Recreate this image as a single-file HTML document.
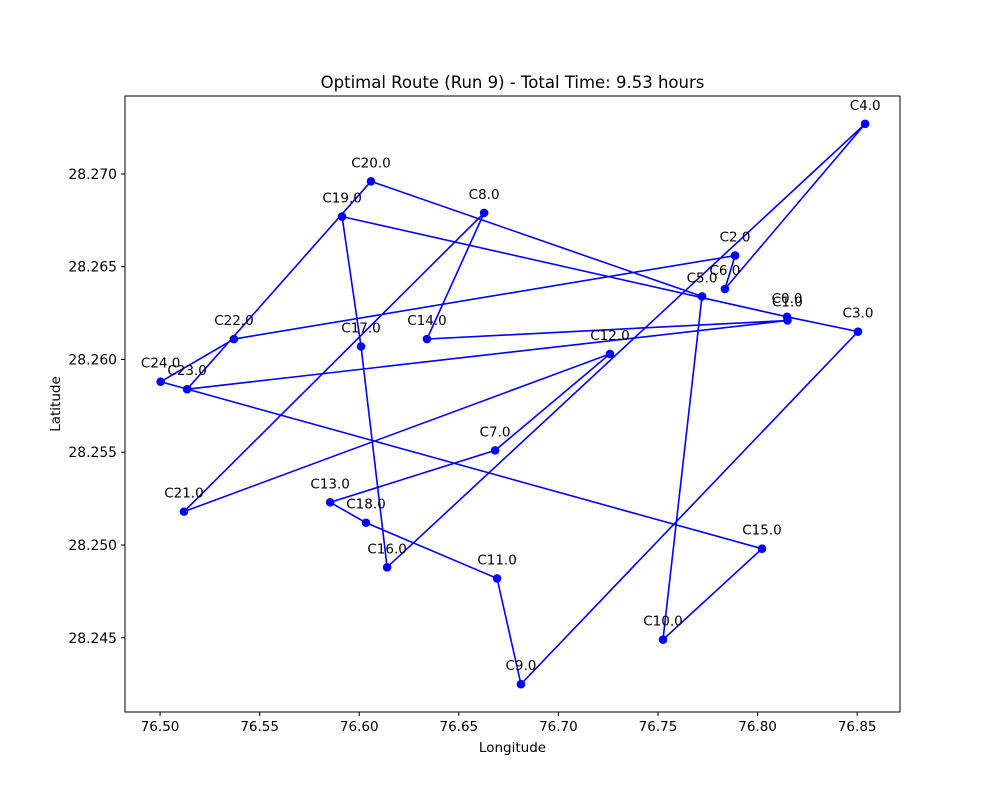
<!DOCTYPE html>
<html><head><meta charset="utf-8"><style>
body{margin:0;background:#fff}
svg{display:block;font-family:"DejaVu Sans","Liberation Sans",sans-serif}
</style></head><body>
<svg id="chart" width="1000" height="800" xmlns="http://www.w3.org/2000/svg"></svg>
<script>
const names=["C0.0","C1.0","C2.0","C3.0","C4.0","C5.0","C6.0","C7.0","C8.0","C9.0","C10.0","C11.0","C12.0","C13.0","C14.0","C15.0","C16.0","C17.0","C18.0","C19.0","C20.0","C21.0","C22.0","C23.0","C24.0"];
const lons=[76.8148,76.8150,76.7887,76.8504,76.8540,76.7721,76.7836,76.6682,76.6627,76.6812,76.7525,76.6692,76.7259,76.5854,76.6340,76.8022,76.6140,76.6009,76.6034,76.5914,76.6059,76.5120,76.5371,76.5136,76.5003];
const lats=[28.2623,28.2621,28.2656,28.2615,28.2727,28.2634,28.2638,28.2551,28.2679,28.2425,28.2449,28.2482,28.2603,28.2523,28.2611,28.2498,28.2488,28.2607,28.2512,28.2677,28.2696,28.2518,28.2611,28.2584,28.2588];
const route=[0,19,17,16,4,6,2,22,24,15,10,5,20,23,1,14,8,21,12,7,13,18,11,9,3,0];
const xTicks=[76.50,76.55,76.60,76.65,76.70,76.75,76.80,76.85];
const yTicks=[28.245,28.250,28.255,28.260,28.265,28.270];
const L=125,R=900,T=96,B=712;
const xMin=76.4824,xMax=76.8715,yMin=28.2410,yMax=28.2742;
const X=v=>L+(v-xMin)/(xMax-xMin)*(R-L);
const Y=v=>B-(v-yMin)/(yMax-yMin)*(B-T);
const svg=document.getElementById('chart');
const NS="http://www.w3.org/2000/svg";
function mk(tag,attrs,parent){const e=document.createElementNS(NS,tag);for(const k in attrs)e.setAttribute(k,attrs[k]);(parent||svg).appendChild(e);return e;}
const frame=mk('rect',{x:L,y:T,width:R-L,height:B-T,fill:'none',stroke:'#000','stroke-width':1});


xTicks.forEach(v=>{const x=X(v);
 const t=mk('line',{x1:x,x2:x,y1:B,y2:B+4,stroke:'#000'});
 
 
 const tx=mk('text',{x:x,y:B+19,'font-size':13.5,'text-anchor':'middle'});tx.textContent=v.toFixed(2);
 
 
});
yTicks.forEach(v=>{const y=Y(v);
 const t=mk('line',{x1:L-4,x2:L,y1:y,y2:y,stroke:'#000'});
 
 
 const tx=mk('text',{x:L-8,y:y+5,'font-size':13.9,'text-anchor':'end'});tx.textContent=v.toFixed(3);
 
 
});
const pts=route.map(i=>X(lons[i])+','+Y(lats[i])).join(' ');
const pl=mk('polyline',{points:pts,fill:'none',stroke:'#0000ff','stroke-width':1.6});


names.forEach((n,i)=>{
 const c=mk('circle',{cx:X(lons[i]),cy:Y(lats[i]),r:4.3,fill:'#0000ff'});
 
 
 const t=mk('text',{x:X(lons[i]),y:Y(lats[i])-14,'font-size':13.5,'text-anchor':'middle'});t.textContent=n;
 
 
});
const title=mk('text',{x:(L+R)/2,y:88,'font-size':16.5,'text-anchor':'middle'});title.textContent='Optimal Route (Run 9) - Total Time: 9.53 hours';


const xl=mk('text',{x:(L+R)/2,y:752,'font-size':13.5,'text-anchor':'middle'});xl.textContent='Longitude';


const yl=mk('text',{x:60,y:(T+B)/2,'font-size':13.5,'text-anchor':'middle',transform:`rotate(-90 60 ${(T+B)/2})`});yl.textContent='Latitude';


</script>
</body></html>
